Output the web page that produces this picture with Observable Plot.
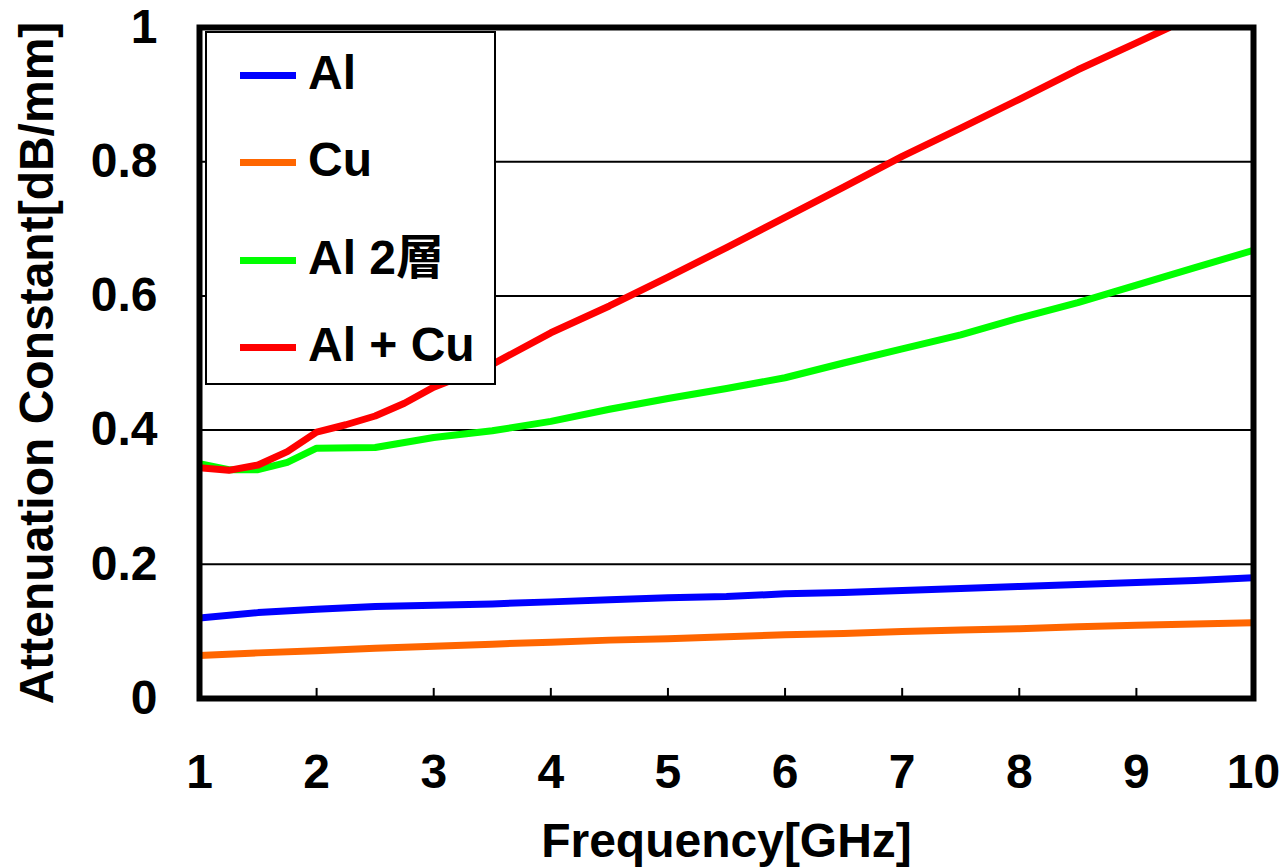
<!DOCTYPE html>
<html>
<head>
<meta charset="utf-8">
<script src="https://cdn.jsdelivr.net/npm/d3@7"></script>
<script src="https://cdn.jsdelivr.net/npm/@observablehq/plot@0.6"></script>
<style>
  html, body { margin: 0; padding: 0; background: #fff; }
  #wrap { position: relative; width: 1283px; height: 868px; font-family: "Liberation Sans", Arial, "Noto Sans CJK JP", sans-serif; font-weight: bold; }
  #legend { position: absolute; left: 205px; top: 31px; width: 287px; height: 350px; background: #fff; border: 2px solid #000; }
  .item { position: absolute; left: 0; height: 0; }
  .swatch { position: absolute; left: 33px; width: 56px; height: 7px; margin-top: -3px; }
  .lab { position: absolute; left: 101px; font-size: 48px; line-height: 48px; top: -26px; white-space: nowrap; color: #000; }
</style>
</head>
<body>
<div id="wrap"></div>
<script>
// ---- data ----
const seriesNames = ["Al", "Cu", "Al 2層", "Al + Cu"];
const seriesColors = ["#0000ff", "#ff6600", "#00ff00", "#ff0000"];

const alFreq = [1, 1.5, 2, 2.5, 3, 3.5, 4, 4.5, 5, 5.5, 6, 6.5, 7, 7.5, 8, 8.5, 9, 9.5, 10];
const alVals = [0.120, 0.128, 0.133, 0.137, 0.139, 0.141, 0.144, 0.147, 0.150, 0.152, 0.156, 0.158, 0.161, 0.164, 0.167, 0.170, 0.173, 0.176, 0.180];

const cuFreq = [1, 1.5, 2, 2.5, 3, 3.5, 4, 4.5, 5, 5.5, 6, 6.5, 7, 7.5, 8, 8.5, 9, 9.5, 10];
const cuVals = [0.064, 0.068, 0.071, 0.075, 0.078, 0.081, 0.084, 0.087, 0.089, 0.092, 0.095, 0.097, 0.100, 0.102, 0.104, 0.107, 0.109, 0.111, 0.113];

const al2Freq = [1, 1.25, 1.5, 1.75, 2, 2.5, 3, 3.5, 4, 4.5, 5, 5.5, 6, 6.5, 7, 7.5, 8, 8.5, 9, 9.5, 10];
const al2Vals = [0.350, 0.341, 0.341, 0.352, 0.373, 0.374, 0.389, 0.399, 0.413, 0.431, 0.447, 0.462, 0.478, 0.500, 0.521, 0.542, 0.567, 0.590, 0.616, 0.642, 0.668];

const alcuFreq = [1, 1.25, 1.5, 1.75, 2, 2.25, 2.5, 2.75, 3, 3.5, 4, 4.5, 5, 5.5, 6, 6.5, 7, 7.5, 8, 8.5, 9, 9.28];
const alcuVals = [0.344, 0.340, 0.348, 0.368, 0.397, 0.408, 0.421, 0.440, 0.464, 0.498, 0.545, 0.585, 0.628, 0.672, 0.717, 0.762, 0.808, 0.850, 0.893, 0.937, 0.977, 1.000];

const xTicks = [1, 2, 3, 4, 5, 6, 7, 8, 9, 10];
const yTicks = [0, 0.2, 0.4, 0.6, 0.8, 1];
const gridY = [0.2, 0.4, 0.6, 0.8];
const xTitle = "Frequency[GHz]";
const yTitle = "Attenuation Constant[dB/mm]";

// ---- build table ----
const freqs = [alFreq, cuFreq, al2Freq, alcuFreq];
const vals = [alVals, cuVals, al2Vals, alcuVals];
const rows = [];
seriesNames.forEach((s, i) => freqs[i].forEach((f, j) => rows.push({series: s, f, v: vals[i][j]})));

const font = "'Liberation Sans', Arial, 'Noto Sans CJK JP', sans-serif";

const chart = Plot.plot({
  width: 1283,
  height: 868,
  marginLeft: 199,
  marginRight: 30,
  marginTop: 27,
  marginBottom: 170,
  style: {fontFamily: font, fontWeight: "bold", background: "#fff", color: "#000", overflow: "visible"},
  x: {domain: [1, 10]},
  y: {domain: [0, 1]},
  color: {domain: seriesNames, range: seriesColors},
  marks: [
    Plot.ruleY(gridY, {stroke: "#000", strokeWidth: 2}),
    Plot.ruleX(xTicks, {x: d => d, y1: 0, y2: 0.015, stroke: "#000", strokeWidth: 2}),
    Plot.line(rows, {x: "f", y: "v", z: "series", stroke: "series", strokeWidth: 7, clip: true}),
    Plot.frame({stroke: "#000", strokeWidth: 6}),
    Plot.axisX({ticks: xTicks, tickSize: 0, tickPadding: 55, fontSize: 48, fontWeight: "bold", label: null}),
    Plot.axisY({ticks: yTicks, tickSize: 0, tickPadding: 42, fontSize: 48, fontWeight: "bold", label: null, tickFormat: d => String(d)}),
    Plot.text([xTitle], {text: d => d, frameAnchor: "bottom", dy: 158, fontSize: 48, fontWeight: "bold"}),
    Plot.text([yTitle], {text: d => d, frameAnchor: "left", textAnchor: "middle", rotate: -90, dx: -162, fontSize: 48, fontWeight: "bold"})
  ]
});

const wrap = document.getElementById("wrap");
wrap.appendChild(chart);

// legend (HTML overlay in front of the lines)
const legendTops = [42, 129, 227, 314];
const legend = document.createElement("div");
legend.id = "legend";
seriesNames.forEach((s, i) => {
  const it = document.createElement("div");
  it.className = "item";
  it.style.top = legendTops[i] + "px";
  const sw = document.createElement("div");
  sw.className = "swatch";
  sw.style.background = seriesColors[i];
  const lb = document.createElement("div");
  lb.className = "lab";
  lb.textContent = s;
  it.appendChild(sw);
  it.appendChild(lb);
  legend.appendChild(it);
});
wrap.appendChild(legend);
</script>
</body>
</html>
